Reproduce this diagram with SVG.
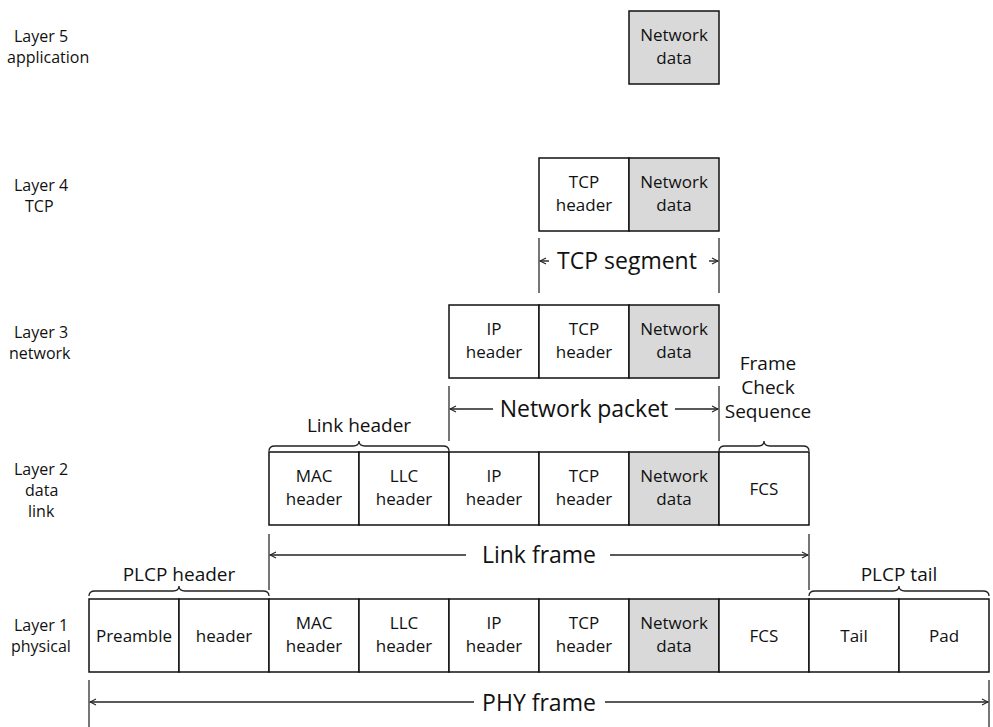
<svg xmlns="http://www.w3.org/2000/svg" width="993" height="727" viewBox="0 0 993 727">
<defs>
<style>
text{font-family:"Open Sans","Liberation Sans",sans-serif;fill:#111}
.lbl{font-size:16px}
.bx{font-size:17px;text-anchor:middle}
.big{font-size:23px;text-anchor:middle}
.mid{font-size:19px;text-anchor:middle}
.cell{fill:#fff;stroke:#111;stroke-width:1.5}
.grey{fill:#d9d9d9;stroke:#111;stroke-width:1.5}
.tick{stroke:#555;stroke-width:1.6;fill:none}
.arr{stroke:#222;stroke-width:1.4;fill:none;marker-end:url(#ah)}
.brace{stroke:#222;stroke-width:1.3;fill:none}
</style>
<marker id="ah" viewBox="0 0 8 8" refX="7" refY="4" markerWidth="8" markerHeight="8" markerUnits="userSpaceOnUse" orient="auto">
<path d="M1,1 L7,4 L1,7" fill="none" stroke="#222" stroke-width="1.1"/>
</marker>
</defs>

<g id="layer-labels">
<text class="lbl" x="14" y="42">Layer 5</text>
<text class="lbl" x="7" y="63">application</text>
<text class="lbl" x="14" y="191">Layer 4</text>
<text class="lbl" x="25" y="212">TCP</text>
<text class="lbl" x="14" y="338">Layer 3</text>
<text class="lbl" x="9" y="359">network</text>
<text class="lbl" x="14" y="475">Layer 2</text>
<text class="lbl" x="25" y="496">data</text>
<text class="lbl" x="28" y="517">link</text>
<text class="lbl" x="14" y="631">Layer 1</text>
<text class="lbl" x="11" y="652">physical</text>
</g>

<g id="layer5">
<g id="l5-data"><rect class="grey" x="629" y="11" width="90" height="73"/><text class="bx" x="674" y="41">Network</text><text class="bx" x="674" y="64">data</text></g>
</g>

<g id="layer4">
<g id="l4-tcp"><rect class="cell" x="539" y="158" width="90" height="73"/><text class="bx" x="584" y="188">TCP</text><text class="bx" x="584" y="211">header</text></g>
<g id="l4-data"><rect class="grey" x="629" y="158" width="90" height="73"/><text class="bx" x="674" y="188">Network</text><text class="bx" x="674" y="211">data</text></g>
</g>

<g id="layer3">
<g id="l3-ip"><rect class="cell" x="449" y="305" width="90" height="73"/><text class="bx" x="494" y="335">IP</text><text class="bx" x="494" y="358">header</text></g>
<g id="l3-tcp"><rect class="cell" x="539" y="305" width="90" height="73"/><text class="bx" x="584" y="335">TCP</text><text class="bx" x="584" y="358">header</text></g>
<g id="l3-data"><rect class="grey" x="629" y="305" width="90" height="73"/><text class="bx" x="674" y="335">Network</text><text class="bx" x="674" y="358">data</text></g>
</g>

<g id="layer2">
<g id="l2-mac"><rect class="cell" x="269" y="452" width="90" height="73"/><text class="bx" x="314" y="482">MAC</text><text class="bx" x="314" y="505">header</text></g>
<g id="l2-llc"><rect class="cell" x="359" y="452" width="90" height="73"/><text class="bx" x="404" y="482">LLC</text><text class="bx" x="404" y="505">header</text></g>
<g id="l2-ip"><rect class="cell" x="449" y="452" width="90" height="73"/><text class="bx" x="494" y="482">IP</text><text class="bx" x="494" y="505">header</text></g>
<g id="l2-tcp"><rect class="cell" x="539" y="452" width="90" height="73"/><text class="bx" x="584" y="482">TCP</text><text class="bx" x="584" y="505">header</text></g>
<g id="l2-data"><rect class="grey" x="629" y="452" width="90" height="73"/><text class="bx" x="674" y="482">Network</text><text class="bx" x="674" y="505">data</text></g>
<g id="l2-fcs"><rect class="cell" x="719" y="452" width="90" height="73"/><text class="bx" x="764" y="495">FCS</text></g>
</g>

<g id="layer1">
<g id="l1-preamble"><rect class="cell" x="89" y="599" width="90" height="73"/><text class="bx" x="134" y="642">Preamble</text></g>
<g id="l1-header"><rect class="cell" x="179" y="599" width="90" height="73"/><text class="bx" x="224" y="642">header</text></g>
<g id="l1-mac"><rect class="cell" x="269" y="599" width="90" height="73"/><text class="bx" x="314" y="629">MAC</text><text class="bx" x="314" y="652">header</text></g>
<g id="l1-llc"><rect class="cell" x="359" y="599" width="90" height="73"/><text class="bx" x="404" y="629">LLC</text><text class="bx" x="404" y="652">header</text></g>
<g id="l1-ip"><rect class="cell" x="449" y="599" width="90" height="73"/><text class="bx" x="494" y="629">IP</text><text class="bx" x="494" y="652">header</text></g>
<g id="l1-tcp"><rect class="cell" x="539" y="599" width="90" height="73"/><text class="bx" x="584" y="629">TCP</text><text class="bx" x="584" y="652">header</text></g>
<g id="l1-data"><rect class="grey" x="629" y="599" width="90" height="73"/><text class="bx" x="674" y="629">Network</text><text class="bx" x="674" y="652">data</text></g>
<g id="l1-fcs"><rect class="cell" x="719" y="599" width="90" height="73"/><text class="bx" x="764" y="642">FCS</text></g>
<g id="l1-tail"><rect class="cell" x="809" y="599" width="90" height="73"/><text class="bx" x="854" y="642">Tail</text></g>
<g id="l1-pad"><rect class="cell" x="899" y="599" width="90" height="73"/><text class="bx" x="944" y="642">Pad</text></g>
</g>

<g id="connectors">
<!-- TCP segment -->
<path class="tick" d="M539,238 V293 M719,238 V293"/>
<path class="arr" d="M549,261 H540"/>
<path class="arr" d="M709,261 H718"/>
<text class="big" x="627" y="269">TCP segment</text>
<!-- Network packet -->
<path class="tick" d="M449,386 V441 M719,386 V441"/>
<path class="arr" d="M493,409 H450"/>
<path class="arr" d="M675,409 H718"/>
<text class="big" x="584" y="417">Network packet</text>
<!-- Link header brace -->
<path class="brace" d="M269,451 Q269,446 275,446 H353 Q359,446 359,441 Q359,446 365,446 H443 Q449,446 449,451"/>
<text class="mid" x="359" y="432">Link header</text>
<!-- FCS brace -->
<path class="brace" d="M719,451 Q719,446 725,446 H758 Q764,446 764,441 Q764,446 770,446 H803 Q809,446 809,451"/>
<text class="mid" x="768" y="370">Frame</text>
<text class="mid" x="768" y="394">Check</text>
<text class="mid" x="768" y="418">Sequence</text>
<!-- Link frame -->
<path class="tick" d="M269,534 V590 M809,534 V590"/>
<path class="arr" d="M466,555 H270"/>
<path class="arr" d="M610,555 H808"/>
<text class="big" x="539" y="563">Link frame</text>
<!-- PLCP header brace -->
<path class="brace" d="M89,596 Q89,591 95,591 H173 Q179,591 179,586 Q179,591 185,591 H263 Q269,591 269,596"/>
<text class="mid" x="179" y="581">PLCP header</text>
<!-- PLCP tail brace -->
<path class="brace" d="M809,596 Q809,591 815,591 H893 Q899,591 899,586 Q899,591 905,591 H983 Q989,591 989,596"/>
<text class="mid" x="899" y="581">PLCP tail</text>
<!-- PHY frame -->
<path class="tick" d="M89,680 V727 M989,680 V727"/>
<path class="arr" d="M474,702 H90"/>
<path class="arr" d="M605,702 H988"/>
<text class="big" x="539" y="711">PHY frame</text>
</g>
</svg>
